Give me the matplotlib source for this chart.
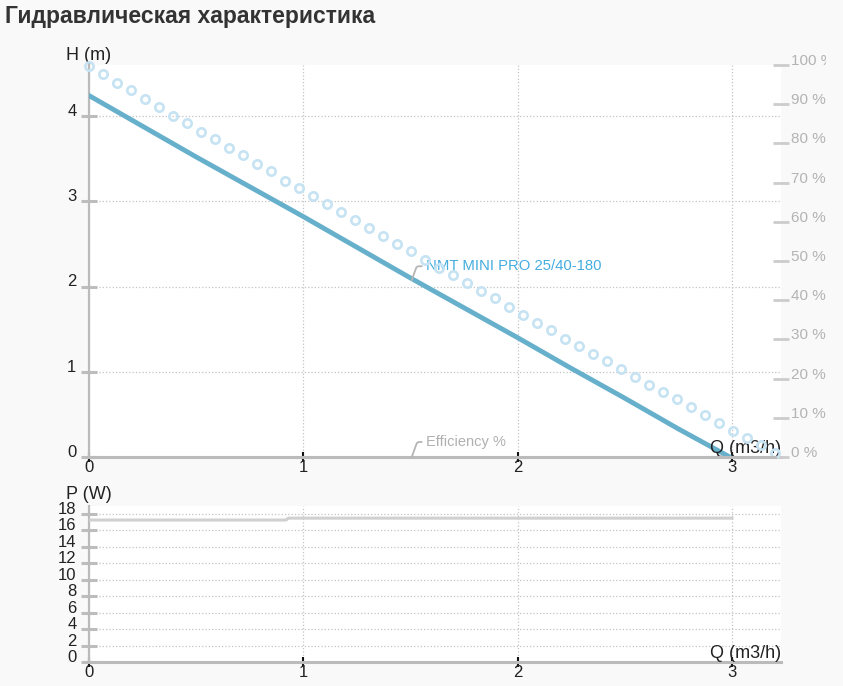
import matplotlib
matplotlib.use('Agg')
import matplotlib.pyplot as plt
from matplotlib.transforms import Bbox, TransformedBbox

plt.rcParams['font.family'] = ['Liberation Sans', 'DejaVu Sans']

# ---------------- data ----------------
title = "Гидравлическая характеристика"
pump_label = "NMT MINI PRO 25/40-180"
eff_label = "Efficiency %"

q_pump = [0.0, 0.25, 0.5, 0.75, 1.0, 1.25, 1.5, 1.75, 2.0, 2.25, 2.5, 2.75, 2.99]
h_pump = [4.24, 3.88, 3.52, 3.17, 2.82, 2.46, 2.10, 1.75, 1.40, 1.04, 0.69, 0.33, 0.0]

q_circ = [0.000, 0.065, 0.131, 0.196, 0.261, 0.327, 0.392, 0.457, 0.522, 0.588,
          0.653, 0.718, 0.784, 0.849, 0.914, 0.980, 1.045, 1.110, 1.176, 1.241,
          1.306, 1.371, 1.437, 1.502, 1.567, 1.633, 1.698, 1.763, 1.829, 1.894,
          1.959, 2.024, 2.090, 2.155, 2.220, 2.286, 2.351, 2.416, 2.482, 2.547,
          2.612, 2.678, 2.743, 2.808, 2.873, 2.939, 3.004, 3.069, 3.135, 3.200]
pct_circ = [99.7, 97.6, 95.3, 93.5, 91.3, 89.3, 87.0, 85.2, 83.0, 81.1,
            78.9, 77.0, 74.7, 72.9, 70.5, 68.6, 66.5, 64.6, 62.6, 60.4,
            58.5, 56.3, 54.4, 52.5, 50.3, 48.3, 46.4, 44.3, 42.3, 40.5,
            38.2, 36.3, 34.3, 32.3, 30.2, 28.2, 26.4, 24.5, 22.5, 20.4,
            18.4, 16.5, 14.7, 12.7, 10.8, 8.6, 6.7, 4.8, 3.0, 1.1]

q_eff = [0.0, 3.2]
eff_pct = [0.0, 0.0]

q_pow = [0.0, 0.92, 0.93, 3.0]
p_pow = [17.27, 17.27, 17.5, 17.5]

q_ticks = [0, 1, 2, 3]
h_ticks = [0, 1, 2, 3, 4]
pct_ticks = [0, 10, 20, 30, 40, 50, 60, 70, 80, 90, 100]
pct_labels = [f"{v} %" for v in pct_ticks]
p_ticks = [0, 2, 4, 6, 8, 10, 12, 14, 16, 18]

# ---------------- styles ----------------
BG = '#f9f9f9'
AXIS_GREY = '#bbbbbb'
GRID = '#c4c4c4'
PUMP_C = '#67b0cc'
CIRC_C = '#c6e3f3'
LABEL_BLUE = '#45ade0'
FS = 13      # axis names
FS_T = 12    # tick labels
FS_R = 11    # right percent labels

W, H = 843, 686
fig = plt.figure(figsize=(W / 100, H / 100), dpi=100, facecolor=BG)

def frac_rect(l, t, r, b):
    return [l / W, 1 - b / H, (r - l) / W, (b - t) / H]

ax = fig.add_axes(frac_rect(89, 65, 781, 457))
axp = fig.add_axes(frac_rect(89, 506, 781, 662))

def style_axes(a, ylim, yticks):
    a.set_facecolor('white')
    a.set_xlim(0, 692 / 214.3)
    a.set_ylim(*ylim)
    a.set_xticks(q_ticks)
    a.set_yticks(yticks)
    for s in ('top', 'right'):
        a.spines[s].set_visible(False)
    a.spines['left'].set_color(AXIS_GREY)
    a.spines['left'].set_linewidth(1.6)
    a.spines['bottom'].set_color(AXIS_GREY)
    a.spines['bottom'].set_linewidth(2.2)
    a.grid(True, ls=':', color=GRID, lw=0.9)
    a.set_axisbelow(True)
    a.tick_params(axis='y', direction='inout', length=12, width=2.2,
                  color='#bdbdbd', pad=3.0, labelsize=FS_T, labelcolor='#222222')
    a.tick_params(axis='x', direction='inout', length=7, width=1.5,
                  color='#111111', pad=-1.0, labelsize=FS_T, labelcolor='#222222')
    for lab in a.get_yticklabels():
        lab.set_verticalalignment('baseline')
    a.text(1.0, 0.0, 'Q (m3/h)', transform=a.transAxes, ha='right', va='bottom',
           fontsize=FS, color='#222222', zorder=6)

style_axes(ax, (0, 392 / 85.25), h_ticks)
style_axes(axp, (0, 156 / 8.22), p_ticks)

ax.annotate('H (m)', xy=(0, 1), xycoords='axes fraction', xytext=(0, 1.0),
            textcoords='offset points', ha='center', va='bottom', fontsize=FS,
            color='#222222')
axp.annotate('P (W)', xy=(0, 1), xycoords='axes fraction', xytext=(0, 2.0),
             textcoords='offset points', ha='center', va='bottom', fontsize=FS,
             color='#222222')

# pump curve
ax.plot(q_pump, h_pump, color=PUMP_C, lw=3.5, solid_capstyle='round', zorder=4)

# right (percent) axis
ax2 = ax.twinx()
ax2.set_ylim(0, 100)
ax2.set_yticks(pct_ticks)
ax2.set_yticklabels(pct_labels)
for s in ('top', 'right', 'left', 'bottom'):
    ax2.spines[s].set_visible(False)
ax2.tick_params(axis='y', direction='inout', length=11.5, width=2,
                color='#cccccc', pad=1.2, labelsize=FS_R, labelcolor='#b3b3b3')
ax2.plot(q_eff, eff_pct, color=AXIS_GREY, lw=2.2, clip_on=False, zorder=3)
ax2.plot(q_circ, pct_circ, ls='none', marker='o', ms=6.0, mew=1.9,
         mec=CIRC_C, mfc='none', clip_on=False, zorder=2)

clip = TransformedBbox(Bbox.from_extents(0, 0, 826 / W, 1), fig.transFigure)
for lab in ax2.get_yticklabels():
    lab.set_verticalalignment('baseline')
    lab.set_clip_box(clip)
    lab.set_clip_on(True)

# annotations
ax.annotate(pump_label, xy=(1.506, 2.075), xycoords='data',
            xytext=(10.2, 10.0), textcoords='offset points',
            ha='left', va='center', fontsize=10.7, color=LABEL_BLUE,
            arrowprops=dict(arrowstyle='-', color='#b5b5b5', lw=1.3,
                            shrinkA=1, shrinkB=0, relpos=(0, 0.5),
                            connectionstyle='angle,angleA=0,angleB=70,rad=2'),
            zorder=7)
ax2.annotate(eff_label, xy=(1.506, 0.0), xycoords='data',
             xytext=(10.2, 10.8), textcoords='offset points',
             ha='left', va='center', fontsize=10.5, color='#b0b0b0',
             arrowprops=dict(arrowstyle='-', color='#b5b5b5', lw=1.3,
                             shrinkA=1, shrinkB=0, relpos=(0, 0.5),
                             connectionstyle='angle,angleA=0,angleB=70,rad=2'),
             zorder=7)

# power curve
axp.plot(q_pow, p_pow, color='#d0d0d0', lw=2.2, zorder=4)

# title
fig.text(5 / W, 1 - 17 / H, title, fontsize=16.5, fontweight='bold',
         ha='left', va='center', color='#333333')

fig.savefig('out.png', dpi=100, facecolor=fig.get_facecolor())
